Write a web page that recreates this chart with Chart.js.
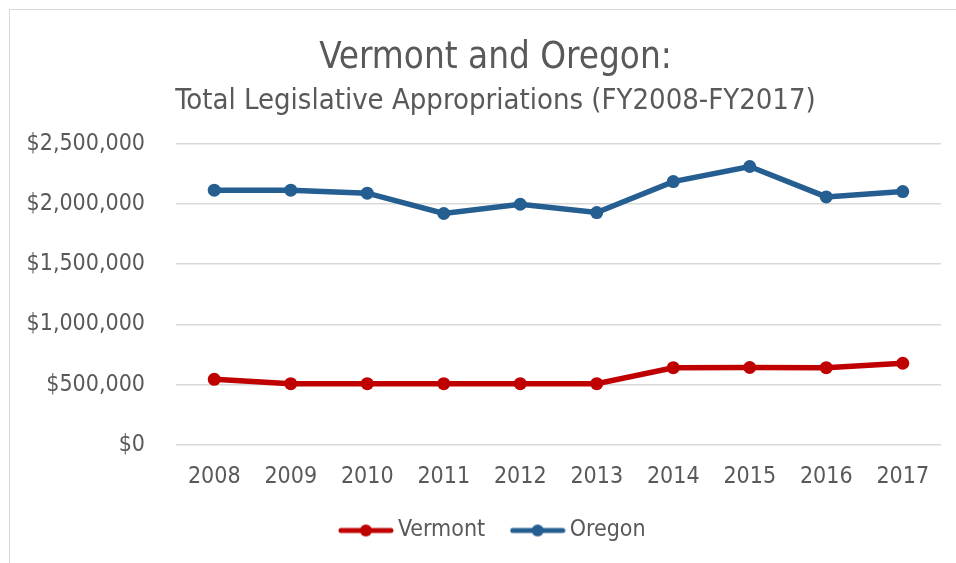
<!DOCTYPE html>
<html lang="en">
<head>
    <meta charset="UTF-8">
    <title>Vermont and Oregon</title>
    <script src="https://cdn.jsdelivr.net/npm/chart.js"></script>
    <style>
        * {
            box-sizing: border-box;
        }
        html, body {
            margin: 0;
            padding: 0;
            background: #fff;
            overflow: hidden;
        }
        .frame {
            position: absolute;
            left: 9px;
            top: 9px;
            width: 1000px;
            height: 600px;
            border: 1px solid #d9d9d9;
        }
        .chart-container {
            position: absolute;
            left: 0;
            top: 0;
            width: 956px;
            height: 563px;
        }
    </style>
</head>
<body>
<div class="frame"></div>
<div class="chart-container">
    <canvas id="appropChart"></canvas>
</div>

<script>
    const years = ['2008', '2009', '2010', '2011', '2012', '2013', '2014', '2015', '2016', '2017'];
    const vermont = [545000, 509000, 509000, 509000, 509000, 509000, 641000, 643000, 641000, 678000];
    const oregon = [2114000, 2114000, 2089000, 1920000, 1997000, 1928000, 2185000, 2310000, 2058000, 2102000];

    const textColor = '#595959';
    const fontFamily = "'DejaVu Sans Condensed', 'DejaVu Sans', sans-serif";

    // legend marker: short line with a dot in the middle
    function legendMarker(color) {
        const c = document.createElement('canvas');
        c.width = 56;
        c.height = 14;
        const g = c.getContext('2d');
        g.strokeStyle = color;
        g.lineWidth = 5;
        g.lineCap = 'round';
        g.beginPath();
        g.moveTo(3, 7);
        g.lineTo(53, 7);
        g.stroke();
        g.fillStyle = color;
        g.beginPath();
        g.arc(28, 7, 6, 0, Math.PI * 2);
        g.fill();
        return c;
    }

    // title, subtitle and legend sit a bit right of the page centre in the original
    const boxShift = {
        id: 'boxShift',
        afterLayout(chart) {
            chart.boxes.forEach(b => {
                if (b.fullSize) b.left = 50;
            });
        }
    };

    Chart.defaults.font.family = fontFamily;
    Chart.defaults.color = textColor;

    const ctx = document.getElementById('appropChart').getContext('2d');
    new Chart(ctx, {
        type: 'line',
        data: {
            labels: years,
            datasets: [{
                label: 'Vermont',
                data: vermont,
                borderColor: '#c00000',
                backgroundColor: '#c00000',
                borderWidth: 5.5,
                pointRadius: 6.5,
                pointHoverRadius: 6.5,
                pointBorderWidth: 0,
                tension: 0
            }, {
                label: 'Oregon',
                data: oregon,
                borderColor: '#255e91',
                backgroundColor: '#255e91',
                borderWidth: 5.5,
                pointRadius: 6.5,
                pointHoverRadius: 6.5,
                pointBorderWidth: 0,
                tension: 0
            }]
        },
        plugins: [boxShift],
        options: {
            responsive: true,
            maintainAspectRatio: false,
            animation: false,
            layout: {
                padding: {left: 20, right: 15, top: 0, bottom: 11}
            },
            plugins: {
                title: {
                    display: true,
                    text: 'Vermont and Oregon:',
                    color: textColor,
                    font: {size: 36.5, weight: 'normal'},
                    padding: {top: 37, bottom: 0}
                },
                subtitle: {
                    display: true,
                    text: 'Total Legislative Appropriations (FY2008-FY2017)',
                    color: textColor,
                    font: {size: 29, weight: 'normal'},
                    padding: {top: 3, bottom: 25}
                },
                legend: {
                    position: 'bottom',
                    labels: {
                        usePointStyle: true,
                        pointStyleWidth: 41,
                        padding: 32,
                        color: textColor,
                        font: {size: 23},
                        generateLabels: chart => chart.data.datasets.map((ds, i) => ({
                            text: ds.label,
                            fontColor: textColor,
                            pointStyle: legendMarker(ds.borderColor),
                            datasetIndex: i,
                            hidden: false
                        }))
                    }
                },
                tooltip: {enabled: false}
            },
            scales: {
                x: {
                    offset: true,
                    grid: {display: false},
                    border: {display: false},
                    ticks: {padding: 10, font: {size: 23}, color: textColor, maxRotation: 0},
                    afterFit: scale => { scale.height = 42; }
                },
                y: {
                    min: 0,
                    max: 2500000,
                    grid: {color: '#d9d9d9', lineWidth: 1.5, drawTicks: false},
                    border: {display: false},
                    ticks: {
                        stepSize: 500000,
                        padding: 31,
                        font: {size: 23},
                        color: textColor,
                        callback: v => '$' + v.toLocaleString('en-US')
                    },
                    afterFit: scale => { scale.width = 156; }
                }
            }
        }
    });
</script>
</body>
</html>
